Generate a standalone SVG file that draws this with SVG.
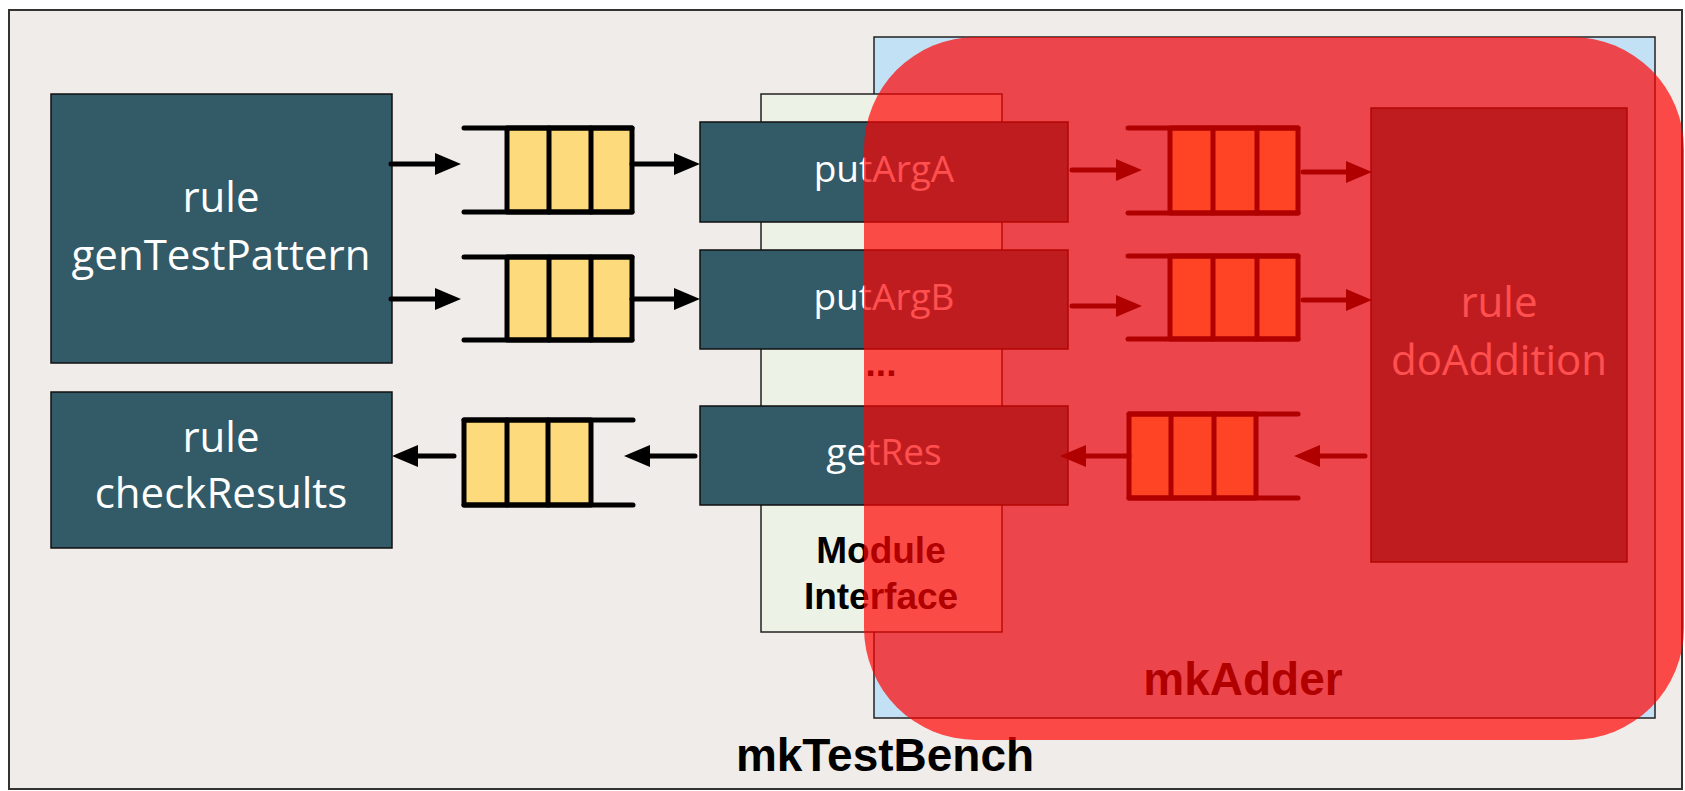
<svg xmlns="http://www.w3.org/2000/svg" width="1685" height="791" viewBox="0 0 1685 791">
<defs>
<style>
.frame{fill:#F0ECE9;stroke:#333;stroke-width:2}
.blue{fill:#C3E1F4;stroke:#222;stroke-width:1.5}
.mi{fill:#EDF2E6;stroke:#222;stroke-width:1.5}
.dark{fill:#335A67;stroke:#111;stroke-width:1.5}
.wt{font-family:"Open Sans","Noto Sans",sans-serif;fill:#fff;text-anchor:middle}
.bt{font-family:"Liberation Sans",Arial,sans-serif;font-weight:bold;fill:#000;text-anchor:middle}
.cell{fill:#FDDA7B;stroke:#000;stroke-width:5;stroke-linejoin:round}
.fl{stroke:#000;stroke-width:5;stroke-linecap:round;fill:none}
.arr{stroke:#000;stroke-width:5;stroke-linecap:round;fill:none;marker-end:url(#ah)}
.overlay{fill:#FF0000;fill-opacity:0.69}
</style>
<marker id="ah" viewBox="0 0 26 22" refX="3" refY="11" markerWidth="26" markerHeight="22" markerUnits="userSpaceOnUse" orient="auto">
<path d="M0,0 L26,11 L0,22 z" fill="#000"/>
</marker>
</defs>

<g id="mkTestBench">
<rect class="frame" x="9" y="10" width="1673" height="779"/>
<text class="bt" x="885" y="771" font-size="46">mkTestBench</text>
</g>

<g id="mkAdder-box">
<rect class="blue" x="874" y="37" width="781" height="681"/>
<text class="bt" x="1243" y="695" font-size="46">mkAdder</text>
</g>

<g id="module-interface">
<rect class="mi" x="761" y="94" width="241" height="538"/>
<text class="bt" x="881" y="376" font-size="37">...</text>
<text class="bt" x="881" y="563" font-size="37">Module</text>
<text class="bt" x="881" y="609" font-size="37">Interface</text>
</g>

<g id="genTestPattern">
<rect class="dark" x="51" y="94" width="341" height="269"/>
<text class="wt" x="221" y="212" font-size="42">rule</text>
<text class="wt" x="221" y="270" font-size="42">genTestPattern</text>
</g>

<g id="checkResults">
<rect class="dark" x="51" y="392" width="341" height="156"/>
<text class="wt" x="221" y="452" font-size="42">rule</text>
<text class="wt" x="221" y="508" font-size="42">checkResults</text>
</g>

<g id="putArgA">
<rect class="dark" x="700" y="122" width="368" height="100"/>
<text class="wt" x="884" y="182" font-size="37">putArgA</text>
</g>

<g id="putArgB">
<rect class="dark" x="700" y="250" width="368" height="99"/>
<text class="wt" x="884" y="310" font-size="37">putArgB</text>
</g>

<g id="getRes">
<rect class="dark" x="700" y="406" width="368" height="99"/>
<text class="wt" x="884" y="465" font-size="37">getRes</text>
</g>

<g id="doAddition">
<rect class="dark" x="1371" y="108" width="256" height="454"/>
<text class="wt" x="1499" y="317" font-size="42">rule</text>
<text class="wt" x="1499" y="375" font-size="42">doAddition</text>
</g>

<g id="fifo-a-tb">
<rect class="cell" x="507" y="128" width="125" height="84"/>
<line class="fl" x1="464" y1="128" x2="632" y2="128"/>
<line class="fl" x1="464" y1="212" x2="632" y2="212"/>
<line class="fl" x1="549" y1="128" x2="549" y2="212"/>
<line class="fl" x1="591" y1="128" x2="591" y2="212"/>
</g>
<g id="fifo-b-tb">
<rect class="cell" x="507" y="257" width="125" height="83"/>
<line class="fl" x1="464" y1="257" x2="632" y2="257"/>
<line class="fl" x1="464" y1="340" x2="632" y2="340"/>
<line class="fl" x1="549" y1="257" x2="549" y2="340"/>
<line class="fl" x1="591" y1="257" x2="591" y2="340"/>
</g>
<g id="fifo-res-tb">
<rect class="cell" x="464" y="420" width="127" height="85"/>
<line class="fl" x1="464" y1="420" x2="633" y2="420"/>
<line class="fl" x1="464" y1="505" x2="633" y2="505"/>
<line class="fl" x1="507" y1="420" x2="507" y2="505"/>
<line class="fl" x1="548" y1="420" x2="548" y2="505"/>
</g>
<g id="fifo-a-add">
<rect class="cell" x="1170" y="128" width="128" height="85"/>
<line class="fl" x1="1128" y1="128" x2="1298" y2="128"/>
<line class="fl" x1="1128" y1="213" x2="1298" y2="213"/>
<line class="fl" x1="1213" y1="128" x2="1213" y2="213"/>
<line class="fl" x1="1257" y1="128" x2="1257" y2="213"/>
</g>
<g id="fifo-b-add">
<rect class="cell" x="1170" y="256" width="128" height="83"/>
<line class="fl" x1="1128" y1="256" x2="1298" y2="256"/>
<line class="fl" x1="1128" y1="339" x2="1298" y2="339"/>
<line class="fl" x1="1213" y1="256" x2="1213" y2="339"/>
<line class="fl" x1="1257" y1="256" x2="1257" y2="339"/>
</g>
<g id="fifo-res-add">
<rect class="cell" x="1129" y="414" width="127" height="84"/>
<line class="fl" x1="1129" y1="414" x2="1298" y2="414"/>
<line class="fl" x1="1129" y1="498" x2="1298" y2="498"/>
<line class="fl" x1="1171" y1="414" x2="1171" y2="498"/>
<line class="fl" x1="1214" y1="414" x2="1214" y2="498"/>
</g>

<g id="connectors">
<line class="arr" x1="391" y1="164" x2="438" y2="164"/>
<line class="arr" x1="391" y1="299" x2="438" y2="299"/>
<line class="arr" x1="632" y1="164" x2="677" y2="164"/>
<line class="arr" x1="632" y1="299" x2="677" y2="299"/>
<line class="arr" x1="454" y1="456" x2="415" y2="456"/>
<line class="arr" x1="695" y1="456" x2="647" y2="456"/>
<line class="arr" x1="1072" y1="170" x2="1119" y2="170"/>
<line class="arr" x1="1072" y1="306" x2="1119" y2="306"/>
<line class="arr" x1="1303" y1="172" x2="1349" y2="172"/>
<line class="arr" x1="1303" y1="300" x2="1349" y2="300"/>
<line class="arr" x1="1129" y1="456" x2="1083" y2="456"/>
<line class="arr" x1="1365" y1="456" x2="1317" y2="456"/>
</g>

<g id="mkAdder-highlight">
<rect class="overlay" x="864" y="37" width="820" height="703" rx="112" ry="112"/>
</g>
</svg>
